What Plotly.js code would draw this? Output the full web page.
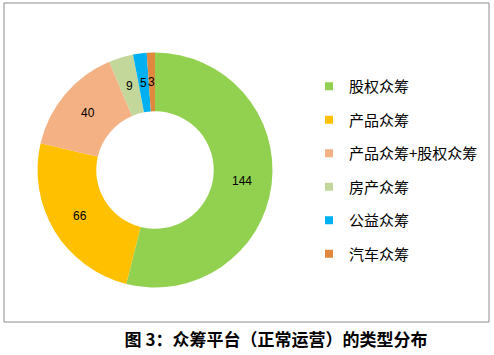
<!DOCTYPE html>
<html><head><meta charset="utf-8">
<script src="https://cdn.plot.ly/plotly-3.0.1.min.js"></script>
<style>html,body{margin:0;padding:0;background:#fff;}</style>
</head><body>
<div id="chart" style="width:494px;height:355px;"></div>
<script>
const categories = ["股权众筹","产品众筹","产品众筹+股权众筹","房产众筹","公益众筹","汽车众筹"];
const values = [144, 66, 40, 9, 5, 3];
const colors = ["#92D050","#FFC000","#F4B183","#C4D79B","#00B0F0","#E0883D"];
const titleText = "图 3：众筹平台（正常运营）的类型分布";

const W = 494, H = 355;
const cx = 155, cy = 170, R = 117.5, HOLE = 0.5;

const traces = [{
  type: "pie",
  labels: categories,
  values: values,
  marker: {colors: colors, line: {width: 0}},
  hole: HOLE,
  sort: false,
  direction: "clockwise",
  rotation: 0,
  textinfo: "none",
  showlegend: false,
  hoverinfo: "label+value",
  domain: {x: [(cx - R) / W, (cx + R) / W], y: [1 - (cy + R) / H, 1 - (cy - R) / H]}
}];
categories.forEach((c, i) => {
  traces.push({
    type: "scatter", mode: "markers", x: [null], y: [null],
    name: c, legendgroup: "g" + i,
    marker: {symbol: "square", size: 8, color: colors[i]},
    showlegend: true, hoverinfo: "skip"
  });
});

// value labels at the middle of each ring segment (derived from the data)
const total = values.reduce((a, b) => a + b, 0);
const rMid = R * (1 + HOLE) / 2;
let cum = 0;
const annotations = values.map(v => {
  const ang = (cum + v / 2) / total * 2 * Math.PI;
  cum += v;
  return {
    xref: "paper", yref: "paper",
    x: (cx + rMid * Math.sin(ang)) / W,
    y: 1 - (cy - rMid * Math.cos(ang)) / H,
    text: String(v), showarrow: false, xanchor: "center", yanchor: "middle",
    font: {family: "Liberation Sans, Arial, sans-serif", size: 12, color: "#000"}
  };
});

const layout = {
  width: W, height: H,
  margin: {l: 0, r: 0, t: 0, b: 0},
  paper_bgcolor: "#fff", plot_bgcolor: "#fff",
  xaxis: {visible: false}, yaxis: {visible: false},
  showlegend: true,
  legend: {
    x: 309 / W, y: 1 - 70 / H, xanchor: "left", yanchor: "top",
    font: {family: "Noto Sans CJK SC, sans-serif", size: 15, color: "#000"},
    tracegroupgap: 11, bgcolor: "rgba(0,0,0,0)"
  },
  title: {
    text: "<b>" + titleText + "</b>",
    x: 276 / W, y: 1 - 340 / H, xanchor: "center", yanchor: "middle",
    font: {family: "Noto Sans CJK SC, sans-serif", size: 17, color: "#000"}
  },
  annotations: annotations,
  shapes: [{
    type: "rect", xref: "paper", yref: "paper",
    x0: 4 / W, x1: 489 / W, y0: 1 - 322 / H, y1: 1 - 3 / H,
    line: {color: "#8c8c8c", width: 1}, fillcolor: "rgba(0,0,0,0)", layer: "below"
  }]
};

Plotly.newPlot("chart", traces, layout, {displayModeBar: false, staticPlot: true});
</script>
</body></html>
